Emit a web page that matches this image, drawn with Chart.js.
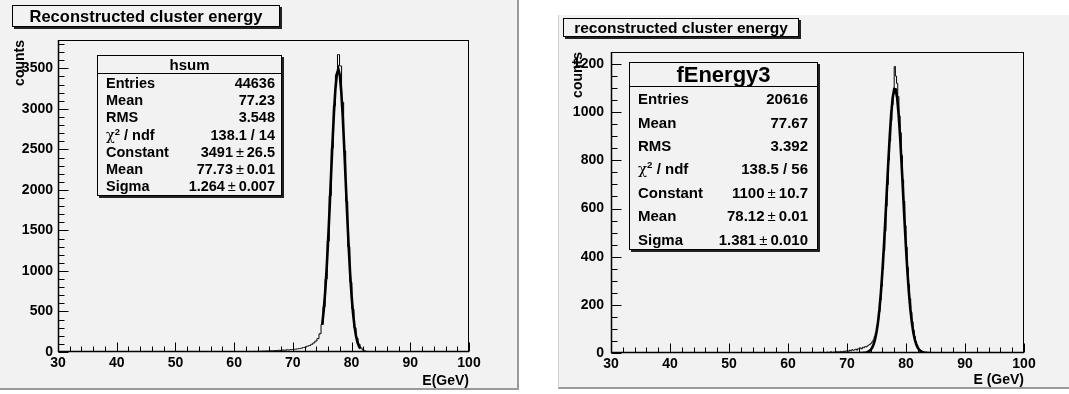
<!DOCTYPE html>
<html><head><meta charset="utf-8">
<script src="https://cdn.jsdelivr.net/npm/chart.js@4.4.0/dist/chart.umd.min.js"></script>
<style>
body{margin:0;background:#fff;width:1069px;height:394px;position:relative;overflow:hidden;font-family:"Liberation Sans",Arial,sans-serif;color:#000;}
.panel{position:absolute;background:#f2f2f2;box-sizing:border-box;}
.panel canvas{position:absolute;left:0;top:0;}
.tbox{position:absolute;border:1px solid #000;box-shadow:2px 2px 0 #222;background:#f2f2f2;font-weight:bold;text-align:center;box-sizing:border-box;white-space:nowrap;}
.stats{position:absolute;border:1px solid #000;box-shadow:2px 2px 0 #222;background:#f2f2f2;box-sizing:border-box;font-weight:bold;white-space:nowrap;}
.stats .hd{text-align:center;border-bottom:1px solid #000;box-sizing:border-box;}
.stats .row{display:flex;justify-content:space-between;align-items:center;box-sizing:border-box;}
.pm{font-weight:normal;}
.chi{font-weight:normal;font-family:"DejaVu Serif",serif;}
sup{font-size:65%;vertical-align:top;position:relative;top:-1px;}
</style></head>
<body>
<div class="panel" id="p1" style="left:0;top:0;width:519px;height:390px;border-right:2px solid #9a9a9a;border-bottom:2px solid #9a9a9a;">
  <canvas id="c1" width="517" height="388"></canvas>
  <div class="tbox" id="t1" style="left:12px;top:5px;width:268px;height:22px;font-size:16.5px;line-height:20px;"></div>
  <div class="stats" id="s1" style="left:97px;top:55px;width:185px;height:141px;font-size:14.5px;"></div>
</div>
<div class="panel" id="p2" style="left:558px;top:15px;width:511px;height:374px;border-bottom:2px solid #9a9a9a;border-left:1px solid #d0d0d0;">
  <canvas id="c2" width="511" height="372"></canvas>
  <div class="tbox" id="t2" style="left:4px;top:3px;width:236px;height:19px;font-size:15.5px;line-height:17px;"></div>
  <div class="stats" id="s2" style="left:70px;top:47px;width:189px;height:188px;font-size:15px;"></div>
</div>
<script>
// ---------------- data ----------------
const xTickValues = [30, 40, 50, 60, 70, 80, 90, 100];

// left: "hsum" histogram, bins of 0.35 GeV starting at 60.1 GeV
const leftTitle = "Reconstructed cluster energy";
const leftXTitle = "E(GeV)";
const leftBinStart = 60.1;
const leftBinWidth = 0.35;
const leftCounts = [
  2, 4, 3, 5, 3, 6, 4, 7, 5, 8,
  6, 9, 8, 11, 10, 13, 12, 15, 14, 18,
  17, 21, 19, 24, 22, 27, 26, 30, 29, 34,
  38, 42, 47, 55, 60, 72, 80, 95, 112, 135,
  165, 225, 340, 560, 900, 1370, 1930, 2520, 3040, 3420,
  3670, 3530, 3080, 2480, 1860, 1300, 860, 530, 300, 170,
  95, 50, 25, 12, 6, 3, 2, 1, 1, 0,
  1, 0
];
const leftFitEnergy = [75.00, 75.25, 75.50, 75.75, 76.00, 76.25, 76.50, 76.75, 77.00, 77.25, 77.50, 77.75, 78.00, 78.25, 78.50, 78.75, 79.00, 79.25, 79.50, 79.75, 80.00, 80.25, 80.50, 80.75, 81.00, 81.25, 81.50];
const leftFitCounts = [339, 509, 736, 1024, 1368, 1759, 2174, 2585, 2955, 3248, 3434, 3491, 3412, 3208, 2900, 2521, 2107, 1694, 1309, 974, 696, 478, 316, 201, 123, 72, 41];
const leftYTicks = [0, 500, 1000, 1500, 2000, 2500, 3000, 3500];
const leftYMax = 3850;
const leftStatsName = "hsum";
const leftStatsLabels = ["Entries", "Mean", "RMS", "CHI", "Constant", "Mean", "Sigma"];
const leftStatsValues = ["44636", "77.23", "3.548", "138.1 / 14", "3491|26.5", "77.73|0.01", "1.264|0.007"];

// right: "fEnergy3" histogram, bins of 0.2 GeV starting at 64.0 GeV
const rightTitle = "reconstructed cluster energy";
const rightXTitle = "E (GeV)";
const rightBinStart = 64.0;
const rightBinWidth = 0.2;
const rightCounts = [
  1, 0, 2, 1, 0, 2, 1, 3, 1, 2,
  3, 2, 1, 4, 2, 3, 5, 2, 4, 3,
  6, 4, 5, 3, 7, 5, 6, 8, 5, 9,
  10, 7, 12, 9, 14, 11, 13, 16, 12, 18,
  18, 21, 17, 24, 22, 27, 25, 30, 33, 36,
  40, 46, 55, 68, 85, 108, 140, 172, 220, 278,
  350, 425, 505, 610, 700, 800, 880, 965, 1030, 1075,
  1190, 1150, 1120, 1065, 985, 915, 820, 720, 630, 530,
  440, 355, 285, 225, 170, 130, 95, 68, 48, 33,
  22, 15, 10, 6, 5, 3, 2, 3, 1, 2,
  1, 0, 1, 0, 1, 0, 0, 1, 0, 0
];
const rightFitEnergy = [72.00, 72.25, 72.50, 72.75, 73.00, 73.25, 73.50, 73.75, 74.00, 74.25, 74.50, 74.75, 75.00, 75.25, 75.50, 75.75, 76.00, 76.25, 76.50, 76.75, 77.00, 77.25, 77.50, 77.75, 78.00, 78.25, 78.50, 78.75, 79.00, 79.25, 79.50, 79.75, 80.00, 80.25, 80.50, 80.75, 81.00, 81.25, 81.50, 81.75, 82.00, 82.25, 82.50, 82.75, 83.00, 83.25, 83.50, 83.75, 84.00];
const rightFitCounts = [0.1, 0.1, 0.3, 0.6, 1.1, 2.2, 4.1, 7.4, 12.8, 21.7, 35, 56, 86, 127, 182, 252, 339, 440, 553, 672, 792, 902, 995, 1061, 1096, 1095, 1059, 991, 898, 787, 668, 548, 435, 335, 249, 179, 125, 84, 55, 35, 21, 12.6, 7.2, 4.0, 2.1, 1.1, 0.6, 0.3, 0.1];
const rightYTicks = [0, 200, 400, 600, 800, 1000, 1200];
const rightYMax = 1250;
const rightStatsName = "fEnergy3";
const rightStatsLabels = ["Entries", "Mean", "RMS", "CHI", "Constant", "Mean", "Sigma"];
const rightStatsValues = ["20616", "77.67", "3.392", "138.5 / 56", "1100|10.7", "78.12|0.01", "1.381|0.010"];

// ---------------- helpers ----------------
function histPoints(start, width, counts) {
  const pts = [{x: 30, y: 0}, {x: start - width / 2, y: 0}];
  counts.forEach((c, i) => pts.push({x: start + width * (i + 0.5), y: c}));
  pts.push({x: start + width * (counts.length + 0.5), y: 0});
  pts.push({x: 100, y: 0});
  return pts;
}
function fitPoints(es, cs) { return es.map((e, i) => ({x: e, y: cs[i]})); }

function buildStats(el, name, labels, values, hdH, rowH, hdFont, padL, padR) {
  let h = '<div class="hd" style="height:' + hdH + 'px;line-height:' + (hdH - 1) + 'px;font-size:' + hdFont + 'px">' + name + '</div>';
  labels.forEach((l, i) => {
    const lab = l === "CHI" ? '<span class="chi">&chi;</span><sup>2</sup> / ndf' : l;
    let v = values[i];
    if (v.indexOf('|') >= 0) { const p = v.split('|'); v = p[0] + '\u2009<span class="pm">\u00b1</span>\u2009' + p[1]; }
    h += '<div class="row" style="height:' + rowH + 'px;padding:0 ' + padR + 'px 0 ' + padL + 'px"><span>' + lab + '</span><span>' + v + '</span></div>';
  });
  el.innerHTML = h;
}

const rootAxes = {
  id: 'rootAxes',
  afterDatasetsDraw(chart, args, o) {
    const {ctx, chartArea: a, scales: {x, y}} = chart;
    ctx.save();
    ctx.strokeStyle = '#000';
    ctx.lineWidth = 1;
    ctx.strokeRect(Math.round(a.left) + 0.5, Math.round(a.top) + 0.5, Math.round(a.right - a.left) - 1, Math.round(a.bottom - a.top) - 1);
    ctx.beginPath();
    const b = Math.round(a.bottom) - 0.5, l = Math.round(a.left) + 0.5;
    for (let v = x.min; v <= x.max + 1e-9; v += o.xMinor) {
      const px = Math.round(x.getPixelForValue(v)) + 0.5;
      const major = Math.abs(v / o.xMajor - Math.round(v / o.xMajor)) < 1e-6;
      ctx.moveTo(px, b); ctx.lineTo(px, b - (major ? 9 : 5));
    }
    for (let v = y.min; v <= y.max + 1e-9; v += o.yMinor) {
      const py = Math.round(y.getPixelForValue(v)) + 0.5;
      const major = Math.abs(v / o.yMajor - Math.round(v / o.yMajor)) < 1e-6;
      ctx.moveTo(l, py); ctx.lineTo(l + (major ? 10 : 6), py);
    }
    ctx.stroke();
    ctx.lineWidth = 1.5;
    ctx.beginPath();
    ctx.moveTo(a.left, b); ctx.lineTo(a.right, b);
    ctx.moveTo(l, a.top); ctx.lineTo(l, a.bottom);
    ctx.stroke();
    ctx.restore();
  }
};

function makeChart(id, cfg) {
  const font = {family: '"Liberation Sans", Arial, sans-serif', weight: 'bold', size: 14};
  return new Chart(document.getElementById(id), {
    type: 'line',
    data: {datasets: [
      {data: fitPoints(cfg.fitE, cfg.fitC), borderColor: '#000', borderWidth: 2.6, pointRadius: 0, tension: 0, order: 0},
      {data: histPoints(cfg.start, cfg.width, cfg.counts), borderColor: '#000', borderWidth: 1, pointRadius: 0, stepped: 'middle', order: 1}
    ]},
    options: {
      responsive: false, animation: false, events: [],
      layout: {padding: cfg.padding},
      plugins: {legend: {display: false}, tooltip: {enabled: false}, rootAxes: cfg.ticks},
      scales: {
        x: {type: 'linear', min: 30, max: 100,
            afterFit: s => { s.height = cfg.xH; },
            afterBuildTicks: s => { s.ticks = xTickValues.map(v => ({value: v})); },
            grid: {display: true, drawOnChartArea: false, drawTicks: false},
            border: {display: false},
            ticks: {color: '#000', font: font, padding: 3, maxRotation: 0, autoSkip: false, callback: v => String(v)},
            title: {display: true, text: cfg.xTitle, align: 'end', color: '#000', font: {family: font.family, weight: 'bold', size: 14, lineHeight: 1}, padding: {top: 0, bottom: cfg.xTitlePad}}},
        y: {type: 'linear', min: 0, max: cfg.yMax,
            afterFit: s => { s.width = cfg.yW; },
            afterBuildTicks: s => { s.ticks = cfg.yTicks.map(v => ({value: v})); },
            grid: {display: true, drawOnChartArea: false, drawTicks: false},
            border: {display: false},
            ticks: {color: '#000', font: font, padding: cfg.yPad, autoSkip: false, callback: v => String(v)},
            title: {display: true, text: 'counts', align: 'end', color: '#000', font: {family: font.family, weight: 'bold', size: 14, lineHeight: 1}, padding: {top: cfg.yTitlePad, bottom: 0}}}
      }
    },
    plugins: [rootAxes]
  });
}

document.getElementById('t1').textContent = leftTitle;
document.getElementById('t2').textContent = rightTitle;
buildStats(document.getElementById('s1'), leftStatsName, leftStatsLabels, leftStatsValues, 18, 17.3, 15, 8, 6);
buildStats(document.getElementById('s2'), rightStatsName, rightStatsLabels, rightStatsValues, 24, 23.4, 22, 8, 9);

makeChart('c1', {start: leftBinStart, width: leftBinWidth, counts: leftCounts, fitE: leftFitEnergy, fitC: leftFitCounts,
  yMax: leftYMax, yTicks: leftYTicks, xTitle: leftXTitle,
  padding: {left: 0, top: 40, right: 48, bottom: 0}, xH: 36, yW: 58, yPad: 5, xTitlePad: 0, yTitlePad: 13,
  ticks: {xMinor: 2, xMajor: 10, yMinor: 100, yMajor: 500}});
makeChart('c2', {start: rightBinStart, width: rightBinWidth, counts: rightCounts, fitE: rightFitEnergy, fitC: rightFitCounts,
  yMax: rightYMax, yTicks: rightYTicks, xTitle: rightXTitle,
  padding: {left: 0, top: 37, right: 46, bottom: 0}, xH: 34, yW: 52, yPad: 7, xTitlePad: 0, yTitlePad: 12,
  ticks: {xMinor: 2, xMajor: 10, yMinor: 50, yMajor: 200}});
</script>
</body></html>
